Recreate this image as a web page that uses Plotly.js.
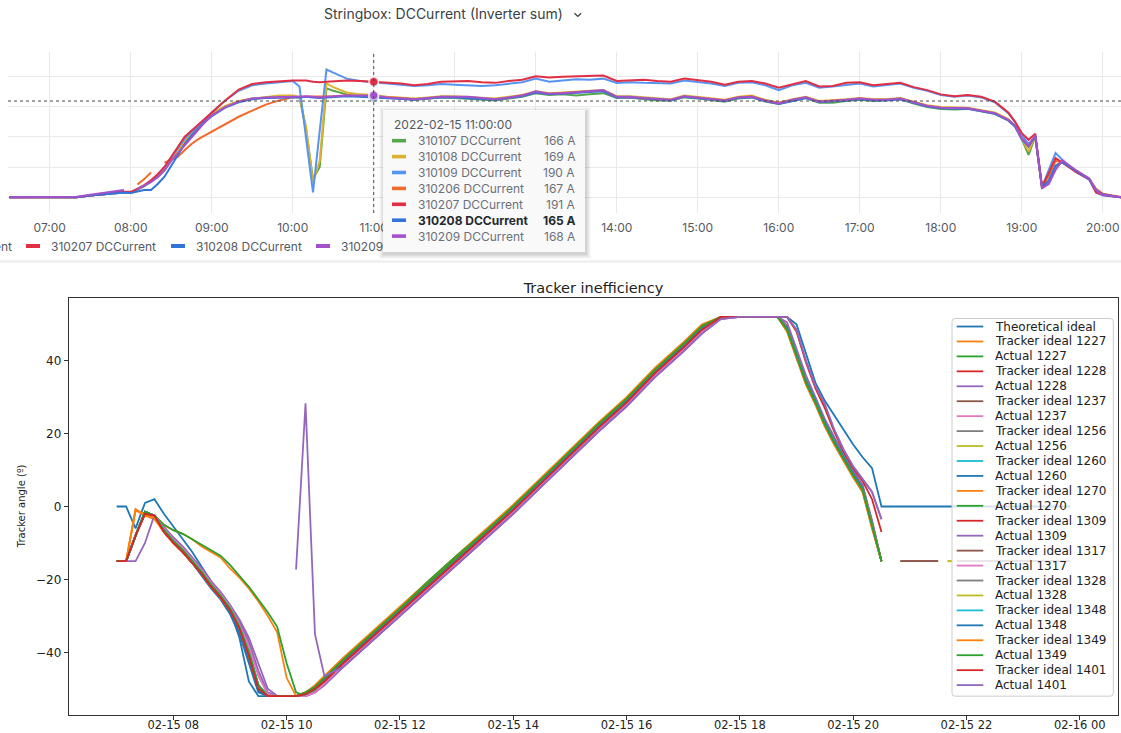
<!DOCTYPE html>
<html>
<head>
<meta charset="utf-8">
<script src="https://cdn.plot.ly/plotly-3.0.1.min.js"></script>
<style>
  html, body { margin: 0; padding: 0; background: #ffffff; width: 1121px; height: 733px; overflow: hidden; }
  #current, #tip { position: absolute; left: 0; top: 0; width: 1121px; height: 265px; }
  #tip { pointer-events: none; }
  #tracker { position: absolute; left: 0; top: 265px; width: 1121px; height: 468px; }
</style>
</head>
<body>
<div id="current"></div>
<div id="tip"></div>
<div id="tracker"></div>
<script>
const _ = null;
const DAY = '2022-02-15 ';

/* ================= Stringbox DC current (inverter sum) ================= */
const timesTop = [
  "06:30","06:40","06:50","07:00","07:10","07:20","07:30","07:40","07:50","07:55",
  "08:00","08:05","08:10","08:15","08:20","08:25","08:30","08:35","08:40","08:45",
  "08:50","08:55","09:00","09:10","09:20","09:30","09:40","09:50","10:00","10:05",
  "10:10","10:15","10:20","10:25","10:30","10:40","10:50","11:00","11:10","11:20",
  "11:30","11:40","11:50","12:00","12:10","12:20","12:30","12:40","12:50","13:00",
  "13:10","13:20","13:30","13:40","13:50","14:00","14:10","14:20","14:30","14:40",
  "14:50","15:00","15:10","15:20","15:30","15:40","15:50","16:00","16:10","16:20",
  "16:30","16:40","16:50","17:00","17:10","17:20","17:30","17:40","17:50","18:00",
  "18:10","18:20","18:30","18:40","18:50","18:55","19:00","19:05","19:10","19:15",
  "19:20","19:25","19:30","19:40","19:50","19:55","20:00","20:10","20:14"
];

const s310107 = [
  0,0,0,0,0,0,3,5,8,
  8,7,12,18,26,34,45,62,76,92,104,114,126,
  137,150,158,163,165,166,166,
  165,110,30,50,180,176,
  170,167,166,164,163,161,163,165,164,163,162,160,163,166,172,169,170,168,170,172,
  164,165,162,160,160,165,163,160,158,163,165,158,154,159,164,156,156,159,161,159,
  160,162,155,149,146,145,146,142,138,127,
  117,96,70,100,15,25,50,58,44,30,12,5,1,0
];
const s310108 = [
  0,0,0,0,0,0,3,5,8,
  8,8,13,19,27,36,47,64,78,93,105,115,127,
  138,151,159,163,166,168,168,
  166,115,25,60,188,182,
  173,170,169,166,165,163,165,167,167,166,165,163,166,169,175,172,173,175,176,177,
  167,167,165,163,162,168,166,163,161,166,168,161,156,162,166,159,160,162,164,162,
  162,164,158,152,149,148,148,144,140,129,
  118,97,76,101,15,25,52,59,44,30,12,5,1,0
];
const s310109 = [
  0,0,0,0,0,0,3,5,8,
  8,8,14,19,27,37,50,66,80,97,108,118,128,
  140,160,176,185,188,190,192,
  183,95,8,110,211,206,
  196,192,190,188,186,184,185,187,186,185,184,185,188,190,196,191,193,195,194,196,
  189,190,189,188,188,193,191,188,184,189,190,185,177,185,189,181,183,186,188,183,
  186,188,181,176,169,166,168,165,157,139,
  124,103,88,100,17,45,73,62,42,29,8,3,1,0
];
const s310206 = [
  0,0,0,0,0,0,3,5,8,
  _,_,21,30,41,_,57,62,67,78,88,96,102,
  108,120,133,143,153,160,165,
  166,166,167,166,167,167,
  168,167,167,165,164,162,163,166,166,165,163,162,164,168,173,171,172,174,175,176,
  166,165,163,162,160,166,165,162,160,165,167,160,156,160,165,158,159,161,163,161,
  161,163,157,151,148,147,147,143,139,128,
  118,97,84,101,16,35,60,58,43,30,14,6,1,0
];
const s310207 = [
  0,0,0,0,0,0,3,5,9,
  9,9,14,20,28,38,50,66,82,100,110,120,130,
  139,160,178,187,190,192,193,
  193,193,191,190,191,192,
  193,192,191,190,188,185,187,191,191,192,190,189,192,194,200,198,199,200,200,201,
  192,193,194,192,191,196,194,191,186,191,192,188,181,187,192,183,184,189,190,185,
  187,189,182,177,170,167,169,166,158,140,
  125,106,95,105,18,40,65,57,42,30,8,4,1,0
];
const s310208 = [
  0,0,0,0,0,0,3,5,8,
  8,7,10,12,12,22,34,52,70,88,102,113,125,
  134,148,157,162,164,165,165,
  165,166,165,164,165,166,
  167,166,165,164,163,161,163,165,165,164,163,161,164,167,173,170,171,173,174,175,
  165,165,163,161,160,166,164,161,159,164,165,159,154,159,164,157,158,160,162,160,
  160,162,156,150,147,146,146,142,138,127,
  117,96,84,101,16,28,52,58,44,30,12,5,1,0
];
const s310209 = [
  0,0,0,0,0,1,4,7,11,
  12,_,14,20,25,33,44,60,73,86,99,112,124,
  135,149,158,163,165,166,166,
  166,167,166,165,166,167,
  168,168,168,165,164,162,164,166,166,166,164,162,165,168,175,171,172,174,176,177,
  166,166,164,162,161,167,165,162,160,165,166,160,155,161,165,158,159,161,163,161,
  161,163,157,151,148,147,147,143,139,128,
  118,97,85,102,15,22,45,61,45,31,12,4,1,0
];

const topSeries = [
  { name: "310107 DCCurrent", color: "#56A64B", values: s310107 },
  { name: "310108 DCCurrent", color: "#DCB22E", values: s310108 },
  { name: "310109 DCCurrent", color: "#5794F2", values: s310109 },
  { name: "310206 DCCurrent", color: "#F2692C", values: s310206 },
  { name: "310207 DCCurrent", color: "#E02F44", values: s310207 },
  { name: "310208 DCCurrent", color: "#3274D9", values: s310208 },
  { name: "310209 DCCurrent", color: "#A352CC", values: s310209 }
];
const hoverTime = "11:00";
const hoverLabel = "2022-02-15 11:00:00";
const hoverSeries = "310208 DCCurrent";
const crosshairValue = 159;
const unit = "A";

/* ================= Tracker inefficiency ================= */
const timesTracker = [
  "07:00","07:10","07:20","07:30","07:40","07:50","08:00","08:10","08:20","08:30",
  "08:40","08:50","09:00","09:10","09:20","09:30","09:40","09:50","10:00","10:10",
  "10:20","10:30","10:40","11:00","11:30","12:00","12:30","13:00","13:30","14:00",
  "14:30","15:00","15:30","16:00","16:30","17:00","17:20","17:40","18:00","18:20",
  "18:40","18:50","19:00","19:10","19:20","19:30","19:40","19:50","20:00","20:10",
  "20:20","20:30","20:40","20:50","21:30","21:35","21:40","21:45","21:50","23:50"
];

const idealTheory = [
  0,0,-6,1,2,-2,-5.5,-9,-12.5,-16.5,-20.5,-24,-28.5,-36,-48,-52,-52,-52,-52,-52,-51.5,-50,-47,
  -42,-35,-28,-21,-14,-7,0,7.5,15,22.5,29.5,37.5,44.5,49.5,52,52,52,52,
  52,50,42,34,29,25,21,17,13.5,10.5,0,
  0,0,0,0,0,0,0,0
];
const ideal1227 = [
  -15,-15,-0.7,-2.5,-3.5,-7,-10,-12.5,-15.5,-18.5,-22,-25,-28.5,-33.5,-41,-50,-52,-52,-52,-52,-51,-49,-46.5,
  -41.5,-34.5,-27.5,-20.5,-13.5,-6.5,0.5,8,15.5,23,30,38,45,50,52,52,52,52,
  48,40.5,33.5,28,22,17,12.5,8,4,-6,-15,
  _,_,_,_,_,_,_,_
];
const actual1227 = [
  -15,-15,-8,-1.4,-2.5,-6.5,-9.5,-12,-15,-18,-21.5,-24.5,-28,-33,-40,-49,-52,-52,-52,-52,-51,-49.5,-47,
  -42,-35,-28,-20.5,-13.5,-7,0,7.5,15,22.5,29.5,37.5,44.5,49.5,52,52,52,52,
  48.5,41,34,28.5,22.5,17.5,13,8.5,4.5,-5,-15,
  _,_,_,_,_,_,_,_
];
const ideal1228 = [
  -15,-15,-8,-2,-2.5,-7,-10,-12.5,-15.5,-18.5,-22,-25,-29,-34,-42,-50.5,-52,-52,-52,-52,-51.5,-50.5,-48,
  -43,-36,-29,-22,-15,-8,-1,6.5,14,21.5,28.5,36.5,43.5,48.5,52,52,52,52,
  49.5,42,35,29.5,23.5,18.5,14,9.5,5.5,-4,-15,
  _,_,_,_,_,_,_,_
];
const actual1228 = [
  -15,-15,-15,-10,-2.3,-5.5,-8.5,-11,-14,-17,-20.5,-23.5,-27,-31,-36,-43,-50,-52,-52,-52,-52,-51,-49,
  -44,-37,-30,-23,-16,-9,-2,5.5,13,20.5,27.5,35.5,42.5,47.5,51.5,52,52,52,
  52,48.5,40,33,28,21,15.5,11,7.5,4,-3.5,
  _,_,_,_,_,_,_,_
];
const ideal1237 = [
  -15,-15,-8,-1.5,-2.5,-6.5,-9.5,-12,-15,-18,-21.5,-24.5,-28,-33,-40.5,-49.5,-52,-52,-52,-52,-51.5,-50,-47.5,
  -42.5,-35.5,-28.5,-21.5,-14.5,-7.5,-0.5,7,14.5,22,29,37,44,49,52,52,52,52,
  49,41.5,34.5,29,23,18,13.5,9,5,-5,-15,
  _,-15,-15,_,_,_,_,_
];
const actual1237 = [
  -15,-15,-8,-1.5,-2.5,-6,-9,-11.5,-14.5,-17.5,-21,-24,-27.5,-32,-38,-46,-51.5,-52,-52,-52,-52,-51,-48.5,
  -43.5,-36.5,-29.5,-22.5,-15.5,-8.5,-1.5,6,13.5,21,28,36,43,48,51.5,52,52,52,
  49,41,34,28.5,22.5,17.5,13,8.5,4.5,-5,-15,
  _,_,_,_,_,_,_,_
];
const ideal1256 = [
  -15,-15,-8,-1.5,-2.5,-6.5,-9.5,-12,-15,-18,-21.5,-24.5,-28,-33,-40,-49,-52,-52,-52,-52,-51.5,-50,-47.5,
  -42.5,-35.5,-28.5,-21.5,-14.5,-7.5,-0.5,7,14.5,22,29,37,44,49,52,52,52,52,
  49,41.5,34.5,29,23,18,13.5,9,5,-5,-15,
  _,_,_,_,_,_,-15,-15
];
const actual1256 = [
  -15,-15,-8,-1.5,-2.5,-6.5,-9.5,-12,-15,-18,-21.5,-24.5,-28.5,-33.5,-40.5,-49,-52,-52,-52,-52,-51.5,-50,-47.5,
  -42.5,-35.5,-28,-21.5,-14.5,-7.5,-0.5,7,14.5,22,29,37,44,49,52,52,52,52,
  49,41.5,34.5,29,23,18,13.5,9,5,-5,-15,
  _,_,_,_,-15,-15,_,_
];
const ideal1260 = [
  -15,-15,-8,-1.5,-2.5,-6.5,-9.5,-12,-15,-18,-21.5,-24.5,-28,-33,-40,-49,-52,-52,-52,-52,-51.5,-50,-47.5,
  -42.5,-35,-28.5,-21.5,-14.5,-7.5,-0.5,7,14.5,22,29,37,44,49,52,52,52,52,
  49,41.5,34.5,29,23,18,13.5,9,5,-5,-15,
  _,_,_,_,_,_,_,_
];
const actual1260 = [
  -15,-15,-8,-1.5,-2.5,-6.5,-9.5,-12.5,-15.5,-19,-22.5,-25.5,-29.5,-35,-43,-51,-52,-52,-52,-52,-51.5,-50,-47.5,
  -42.5,-35.5,-28.5,-21.5,-14.5,-7.5,-0.5,7,14.5,22,29,37,44,49,52,52,52,52,
  49,41.5,34.5,29,23,18,13.5,9,5,-5,-15,
  _,_,_,_,_,_,_,_
];
const ideal1270 = [
  -15,-15,-1,-2,-2.5,-5,-6.5,-7.5,-9,-11,-12.5,-14,-17,-19.5,-22.5,-26,-30,-34.5,-47,-52,-52,-50,-47.5,
  -42,-35,-28,-21,-14,-7,0,7.5,15,22.5,29.5,37.5,44.5,49.5,52,52,52,52,
  48,40.5,33.5,28,22,17,12.5,8,4,-6,-15,
  _,_,_,_,_,_,_,_
];
const actual1270 = [
  -15,-15,-8,-1.4,-2.5,-5,-6.5,-7.5,-9,-10.5,-12,-13.5,-16,-19,-22,-25.5,-29,-33,-43,-51,-52,-50.5,-47.5,
  -42,-35,-28,-21,-14,-7,0,7.5,15,22.5,29.5,37.5,44.5,49.5,52,52,52,52,
  48.5,41,34,28.5,22.5,17.5,13,8.5,4.5,-5,-15,
  _,_,_,_,_,_,_,_
];
const ideal1309 = [
  -15,-15,-8,-2,-2.5,-7,-10,-12.5,-15.5,-18.5,-22,-25,-28.5,-33.5,-41,-50,-52,-52,-52,-52,-51.5,-50,-48,
  -43,-36,-29,-22,-15,-8,-1,6.5,14,21.5,28.5,36.5,43.5,48.5,52,52,52,52,
  49,41.5,34.5,29,23,18,13.5,9,5,-5,-15,
  _,_,_,_,_,_,_,_
];
const actual1309 = [
  -15,-15,-8,-1.5,-2.5,-6,-8.5,-11,-14,-17,-20.5,-23.5,-27,-31.5,-37,-45,-51,-52,-52,-52,-52,-51,-49,
  -44,-37,-30,-23,-16,-9,-2,5.5,13,20.5,27.5,35.5,42.5,47.5,51.5,52,52,52,
  50.5,43,36,30,24,19,14.5,10,6,-4,-15,
  _,_,_,_,_,_,_,_
];
const ideal1317 = [
  -15,-15,-8,-1.5,-2.5,-6.5,-9.5,-12,-15,-18,-21.5,-24.5,-28,-33,-40,-49,-52,-52,-52,-52,-51.5,-50,-47.5,
  -42.5,-35.5,-28.5,-21.5,-14.5,-7.5,-0.5,7,14.5,22,29,37,44,49,52,52,52,52,
  49,41.5,34.5,29,23,18,13.5,9,5,-5,-15,
  _,-15,-15,_,_,_,_,_
];
const actual1317 = [
  -15,-15,-8,-1.5,-2.5,-6,-9,-11.5,-14.5,-17.5,-21,-24,-27.5,-32.5,-38.5,-46.5,-51.5,-52,-52,-52,-52,-51,-48.5,
  -43.5,-36.5,-29.5,-22.5,-15.5,-8.5,-1.5,6,13.5,21,28,36,43,48,51.5,52,52,52,
  49,41,34,28.5,22.5,17.5,13,8.5,4.5,-5,-15,
  _,_,_,_,_,_,-15,-15
];
const ideal1328 = [
  -15,-15,-8,-1.5,-2.5,-6.5,-9.5,-12,-15,-18,-21.5,-24.5,-28,-33,-40,-49,-52,-52,-52,-52,-51.5,-50,-47.5,
  -42.5,-35.5,-28.5,-21.5,-14.5,-7.5,-0.5,7,14.5,22,29,37,44,49,52,52,52,52,
  49,41.5,34.5,29,23,18,13.5,9,5,-5,-15,
  _,_,_,_,_,_,-15,-15
];
const actual1328 = [
  -15,-15,-8,-1.5,-2.5,-6.5,-9.5,-12,-15,-18,-21.5,-24.5,-28,-33,-40,-49,-52,-52,-52,-52,-51.5,-50,-47.5,
  -42.5,-35.5,-28.5,-21.5,-14.5,-7.5,-0.5,7,14.5,22,29,37,44,49,52,52,52,52,
  49,41.5,34.5,29,23,18,13.5,9,5,-5,-15,
  _,_,_,_,-15,-15,_,_
];
const ideal1348 = [
  -15,-15,-8,-1.5,-2.5,-6.5,-9.5,-12,-15,-18,-21.5,-24.5,-28,-33,-40,-49,-52,-52,-52,-52,-51.5,-50,-47.5,
  -42.5,-35.5,-28.5,-21.5,-14.5,-7.5,-0.5,7,14.5,22,29,37,44,49,52,52,52,52,
  49,41.5,34.5,29,23,18,13.5,9,5,-5,-15,
  _,_,_,_,_,_,_,_
];
const actual1348 = [
  -15,-15,-8,-1.5,-2.5,-6.5,-9.5,-12.5,-15.5,-18.5,-22,-25,-29,-34,-42,-50.5,-52,-52,-52,-52,-51.5,-50,-47.5,
  -42.5,-35.5,-28.5,-21.5,-14.5,-7.5,-0.5,7,14.5,22,29,37,44,49,52,52,52,52,
  49,41.5,34.5,29,23,18,13.5,9,5,-5,-15,
  _,_,_,_,_,_,_,_
];
const ideal1349 = [
  -15,-15,-1,-2.5,-3,-7,-10,-12.5,-15.5,-18.5,-22,-25,-28.5,-33.5,-41,-49.5,-52,-52,-52,-52,-51,-49.5,-47,
  -42,-35,-28,-21,-14,-7,0,7.5,15,22.5,29.5,37.5,44.5,49.5,52,52,52,52,
  48.5,41,34,28.5,22.5,17.5,13,8.5,4.5,-5.5,-15,
  _,_,_,_,_,_,_,_
];
const actual1349 = [
  -15,-15,-8,-1.4,-2.5,-6.5,-9.5,-12,-15,-18,-21.5,-24.5,-28,-33,-40,-49,-52,-52,-52,-52,-51,-49.5,-47,
  -42,-35,-28,-21,-14,-7,0,7.5,15,22.5,29.5,37.5,44.5,49.5,52,52,52,52,
  48.5,41,34,28.5,22.5,17.5,13,8.5,4.5,-5,-15,
  _,_,_,_,_,_,_,_
];
const ideal1401 = [
  -15,-15,-8,-2,-2.5,-7,-10,-12.5,-15.5,-18.5,-22,-25,-28.5,-33.5,-41,-50,-52,-52,-52,-52,-51.5,-50,-48,
  -43,-36,-29,-22,-15,-8,-1,6.5,14,21.5,28.5,36.5,43.5,48.5,52,52,52,52,
  52,48,39.5,32.5,27,20.5,15,10.5,7,2,-7,
  _,_,_,_,_,_,_,_
];
const actual1401 = [
  _,_,_,_,_,_,_,_,_,_,_,_,_,_,_,_,_,_,_,-17.3,28.3,-35,-46.5,
  -44,-37,-30,-23,-16,-9,-2,5.5,13,20.5,27.5,35.5,42.5,47.5,51.5,52,52,52,
  52,48.5,40,33,28,21,15.5,11,7.5,4,-3.5,
  _,_,_,_,_,_,_,_
];

const trackerNames = [
  "Theoretical ideal",
  "Tracker ideal 1227", "Actual 1227",
  "Tracker ideal 1228", "Actual 1228",
  "Tracker ideal 1237", "Actual 1237",
  "Tracker ideal 1256", "Actual 1256",
  "Tracker ideal 1260", "Actual 1260",
  "Tracker ideal 1270", "Actual 1270",
  "Tracker ideal 1309", "Actual 1309",
  "Tracker ideal 1317", "Actual 1317",
  "Tracker ideal 1328", "Actual 1328",
  "Tracker ideal 1348", "Actual 1348",
  "Tracker ideal 1349", "Actual 1349",
  "Tracker ideal 1401", "Actual 1401"
];
const trackerValues = [
  idealTheory,
  ideal1227, actual1227, ideal1228, actual1228, ideal1237, actual1237,
  ideal1256, actual1256, ideal1260, actual1260, ideal1270, actual1270,
  ideal1309, actual1309, ideal1317, actual1317, ideal1328, actual1328,
  ideal1348, actual1348, ideal1349, actual1349, ideal1401, actual1401
];
const tab10 = ["#1f77b4","#ff7f0e","#2ca02c","#d62728","#9467bd",
               "#8c564b","#e377c2","#7f7f7f","#bcbd22","#17becf"];

/* ---------------- top panel ---------------- */
const W = 1121, TOP_H = 265;
const TP = { l: 8, r: 1121, t: 52, b: 213 };           // plot box, px
const tx = px => (px - TP.l) / (TP.r - TP.l);
const ty = py => (TP.b - py) / (TP.b - TP.t);
const GRAF_FONT = "Inter, Roboto, 'DejaVu Sans', sans-serif";

const xTop = timesTop.map(t => DAY + t);
const hi = timesTop.indexOf(hoverTime);

const topTraces = topSeries.map(s => ({
  type: "scatter", mode: "lines", name: s.name, x: xTop, y: s.values,
  line: { color: s.color, width: 2 }, hoverinfo: "skip"
}));
topSeries.forEach(s => topTraces.push({
  type: "scatter", mode: "markers", x: [DAY + hoverTime], y: [s.values[hi]],
  marker: { color: s.color, size: 9, line: { color: "rgba(255,255,255,0.55)", width: 2 } },
  hoverinfo: "skip"
}));

const topShapes = [
  // crosshair
  { type: "line", xref: "x", yref: "paper", x0: DAY + hoverTime, x1: DAY + hoverTime, y0: 0, y1: 1,
    line: { color: "#4a4a4a", width: 1, dash: "3px,3px" } },
  { type: "line", xref: "paper", yref: "y", x0: 0, x1: 1, y0: crosshairValue, y1: crosshairValue,
    line: { color: "#4a4a4a", width: 1, dash: "3px,3px" } },
  // title dropdown chevron
  { type: "path", xref: "paper", yref: "paper",
    path: `M${tx(574.5)},${ty(13.2)} L${tx(577.8)},${ty(16.4)} L${tx(581.1)},${ty(13.2)}`,
    line: { color: "#3b3f45", width: 1.3 } },
  // separator under the legend
  { type: "line", xref: "paper", yref: "paper", x0: tx(0), x1: tx(1121), y0: ty(261.5), y1: ty(261.5),
    line: { color: "#ececec", width: 2 } }
];
const topAnnotations = [];

// legend row (scrolled horizontally so that it starts inside 310206)
const LEG_STEP = 145, LEG_Y = 246;
const legStart = 26 - 4 * LEG_STEP;
topSeries.forEach((s, i) => {
  const x0 = legStart + i * LEG_STEP;
  if (x0 + 23 + 112 < 0) return;
  topShapes.push({ type: "rect", xref: "paper", yref: "paper",
    x0: tx(x0), x1: tx(x0 + 14), y0: ty(LEG_Y + 2), y1: ty(LEG_Y - 2),
    fillcolor: s.color, line: { width: 0 } });
  topAnnotations.push({ xref: "paper", yref: "paper", x: tx(x0 + 23), y: ty(LEG_Y),
    xanchor: "left", yanchor: "middle", showarrow: false, text: s.name,
    font: { family: GRAF_FONT, size: 12, color: "#555a61" } });
});

const topLayout = {
  width: W, height: TOP_H,
  margin: { l: TP.l, r: W - TP.r, t: TP.t, b: TOP_H - TP.b, pad: 0 },
  paper_bgcolor: "#ffffff", plot_bgcolor: "#ffffff", showlegend: false,
  font: { family: GRAF_FONT, color: "#555a61" },
  title: { text: "Stringbox: DCCurrent (Inverter sum)",
    font: { family: GRAF_FONT, size: 14, color: "#3b3f45" },
    xref: "paper", x: tx(324), xanchor: "left",
    yref: "container", y: 1 - 14 / TOP_H, yanchor: "middle" },
  xaxis: { type: "date", range: [DAY + "06:29:06", DAY + "20:13:30"],
    tick0: DAY + "00:00", dtick: 3600000, tickformat: "%H:%M",
    showgrid: true, gridcolor: "#e9e9e9", gridwidth: 1, zeroline: false, showline: false,
    ticks: "outside", ticklen: 4, tickcolor: "rgba(0,0,0,0)",
    tickfont: { family: GRAF_FONT, size: 12, color: "#555a61" }, fixedrange: true },
  yaxis: { range: [-26, 240], tick0: 0, dtick: 50, showgrid: true, gridcolor: "#e9e9e9",
    zeroline: false, showline: false, showticklabels: false, ticks: "", fixedrange: true },
  shapes: topShapes, annotations: topAnnotations
};
Plotly.newPlot("current", topTraces, topLayout, { staticPlot: true, displayModeBar: false });

/* ---------------- hover tooltip layer ---------------- */
const TIP = { x0: 383, y0: 110, x1: 585, y1: 252 };
const tipShapes = [];
[[5, 0.025], [4, 0.03], [3, 0.035], [2, 0.04], [1, 0.05]].forEach(([d, a]) => {
  tipShapes.push({ type: "rect", xref: "x", yref: "y",
    x0: TIP.x0 - d + 1, x1: TIP.x1 + d + 1, y0: TIP.y0 - d + 2, y1: TIP.y1 + d + 2,
    fillcolor: `rgba(0,0,0,${a})`, line: { width: 0 } });
});
tipShapes.push({ type: "rect", xref: "x", yref: "y", x0: TIP.x0, x1: TIP.x1, y0: TIP.y0, y1: TIP.y1,
  fillcolor: "#f9f9fa", line: { width: 0 } });
const tipAnn = [{ xref: "x", yref: "y", x: 392, y: 124.5, xanchor: "left", yanchor: "middle",
  showarrow: false, text: hoverLabel, font: { family: GRAF_FONT, size: 12, color: "#555a61" } }];
topSeries.forEach((s, k) => {
  const y = 140.7 + k * 15.9;
  const strong = s.name === hoverSeries;
  const col = strong ? "#24292e" : "#6b7078";
  tipShapes.push({ type: "rect", xref: "x", yref: "y", x0: 392, x1: 406, y0: y - 1.8, y1: y + 1.8,
    fillcolor: s.color, line: { width: 0 } });
  tipAnn.push({ xref: "x", yref: "y", x: 415.5, y: y, xanchor: "left", yanchor: "middle",
    showarrow: false, text: strong ? `<b>${s.name}</b>` : s.name,
    font: { family: GRAF_FONT, size: 12, color: col } });
  const v = `${s.values[hi]} ${unit}`;
  tipAnn.push({ xref: "x", yref: "y", x: 577, y: y, xanchor: "right", yanchor: "middle",
    showarrow: false, text: strong ? `<b>${v}</b>` : v,
    font: { family: GRAF_FONT, size: 12, color: col } });
});
Plotly.newPlot("tip", [], {
  width: W, height: TOP_H, margin: { l: 0, r: 0, t: 0, b: 0, pad: 0 },
  paper_bgcolor: "rgba(0,0,0,0)", plot_bgcolor: "rgba(0,0,0,0)", showlegend: false,
  xaxis: { range: [0, W], visible: false, fixedrange: true },
  yaxis: { range: [TOP_H, 0], visible: false, fixedrange: true },
  shapes: tipShapes, annotations: tipAnn
}, { staticPlot: true, displayModeBar: false });

/* ---------------- Tracker inefficiency panel ---------------- */
const BOT_TOP = 265, BOT_H = 468;
const BP = { l: 69, r: 1118, t: 298.3, b: 715 };       // plot box, page px
const bx = px => (px - BP.l) / (BP.r - BP.l);
const by = py => (BP.b - py) / (BP.b - BP.t);
const MPL_FONT = "'DejaVu Sans', sans-serif";

const xTracker = timesTracker.map(t => DAY + t);
const trackerTraces = trackerNames.map((name, i) => ({
  type: "scatter", mode: "lines", name: name, x: xTracker, y: trackerValues[i],
  line: { color: tab10[i % 10], width: 1.8 }, hoverinfo: "skip"
}));

function roundedRect(x0, y0, x1, y1, r) {
  const X = bx, Y = by;
  return `M${X(x0 + r)},${Y(y0)} L${X(x1 - r)},${Y(y0)} Q${X(x1)},${Y(y0)} ${X(x1)},${Y(y0 + r)} ` +
         `L${X(x1)},${Y(y1 - r)} Q${X(x1)},${Y(y1)} ${X(x1 - r)},${Y(y1)} ` +
         `L${X(x0 + r)},${Y(y1)} Q${X(x0)},${Y(y1)} ${X(x0)},${Y(y1 - r)} ` +
         `L${X(x0)},${Y(y0 + r)} Q${X(x0)},${Y(y0)} ${X(x0 + r)},${Y(y0)} Z`;
}
const LG = { x0: 952, y0: 318.8, x1: 1113.3, y1: 696.2, row0: 326.8, pitch: 14.93 };
const botShapes = [{ type: "path", xref: "paper", yref: "paper",
  path: roundedRect(LG.x0, LG.y0, LG.x1, LG.y1, 3),
  fillcolor: "rgba(255,255,255,0.8)", line: { color: "#cccccc", width: 1 } }];
const botAnn = [];
trackerNames.forEach((name, i) => {
  const y = LG.row0 + i * LG.pitch;
  botShapes.push({ type: "line", xref: "paper", yref: "paper",
    x0: bx(956.7), x1: bx(983.3), y0: by(y), y1: by(y),
    line: { color: tab10[i % 10], width: 1.8 } });
  botAnn.push({ xref: "paper", yref: "paper", x: bx(993), y: by(y), xanchor: "left", yanchor: "middle",
    showarrow: false, text: name, font: { family: MPL_FONT, size: 12, color: "#222222" } });
});
botAnn.push({ xref: "paper", yref: "paper", x: bx(21.7), y: 0.5, xanchor: "center", yanchor: "middle",
  textangle: -90, showarrow: false, text: "Tracker angle (º)",
  font: { family: MPL_FONT, size: 10, color: "#222222" } });

const botLayout = {
  width: W, height: BOT_H,
  margin: { l: BP.l, r: W - BP.r, t: BP.t - BOT_TOP, b: BOT_TOP + BOT_H - BP.b, pad: 0 },
  paper_bgcolor: "#ffffff", plot_bgcolor: "#ffffff", showlegend: false,
  font: { family: MPL_FONT, color: "#222222" },
  title: { text: "Tracker inefficiency", font: { family: MPL_FONT, size: 14.5, color: "#222222" },
    xref: "paper", x: 0.5, xanchor: "center",
    yref: "container", y: 1 - (288 - BOT_TOP) / BOT_H, yanchor: "middle" },
  xaxis: { type: "date", range: [DAY + "06:09:30", "2022-02-16 00:40:30"],
    tick0: DAY + "00:00", dtick: 7200000, tickformat: "%m-%d %H",
    showgrid: false, zeroline: false, showline: true, mirror: true, linecolor: "#333333", linewidth: 1.2,
    ticks: "outside", ticklen: 4, tickwidth: 1, tickcolor: "#333333", ticklabelstandoff: -5,
    tickfont: { family: MPL_FONT, size: 11.5, color: "#222222" }, fixedrange: true },
  yaxis: { range: [-57.2, 57.2], tick0: 0, dtick: 20,
    showgrid: false, zeroline: false, showline: true, mirror: true, linecolor: "#333333", linewidth: 1.2,
    ticks: "outside", ticklen: 4, tickwidth: 1, tickcolor: "#333333",
    tickfont: { family: MPL_FONT, size: 12, color: "#222222" }, fixedrange: true },
  shapes: botShapes, annotations: botAnn
};
Plotly.newPlot("tracker", trackerTraces, botLayout, { staticPlot: true, displayModeBar: false });
</script>
</body>
</html>
